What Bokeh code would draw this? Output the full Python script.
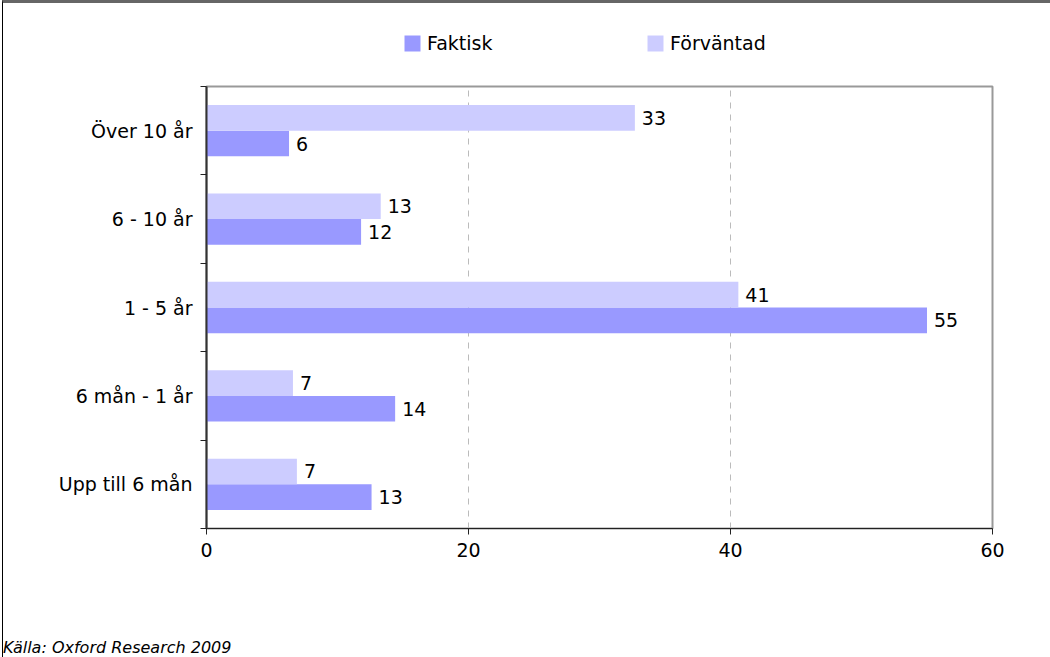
from bokeh.plotting import figure
from bokeh.models import (Range1d, FixedTicker, ColumnDataSource, Legend, LegendItem, Div)
from bokeh.layouts import column
from bokeh.transform import dodge
from bokeh.core.properties import value
from bokeh.embed import file_html
from bokeh.resources import INLINE

categories = ["Upp till 6 mån", "6 mån - 1 år", "1 - 5 år", "6 - 10 år", "Över 10 år"]
faktisk = [12.6, 14.4, 55.0, 11.8, 6.3]
forvantad = [6.9, 6.6, 40.6, 13.3, 32.7]
x_ticks = [0, 20, 40, 60]
series_names = ["Faktisk", "Förväntad"]
series_colors = ["#9999FF", "#CCCCFF"]
source_text = "Källa: Oxford Research 2009"

FONT = "DejaVu Sans"
FS = "19px"
LEFT_SHIFT = 3  # left frame line + margin

ypos = [i + 0.5 for i in range(len(categories))]
src = ColumnDataSource(dict(
    y=ypos,
    fak=faktisk,
    forv=forvantad,
    fak_lbl=[str(int(round(v))) for v in faktisk],
    forv_lbl=[str(int(round(v))) for v in forvantad],
))

# ---------- main chart ----------
p = figure(frame_width=786, frame_height=442, output_backend="svg", toolbar_location=None,
           x_range=Range1d(0, 60), y_range=Range1d(0, 5),
           min_border_left=206 - LEFT_SHIFT, min_border_right=58, min_border_top=2,
           min_border_bottom=110)
p.background_fill_color = "white"
p.border_fill_color = "white"
p.outline_line_color = "#999999"
p.outline_line_width = 2

bh = 0.29
p.hbar(y=dodge("y", -bh / 2), right="fak", left=0, height=bh, source=src,
       fill_color=series_colors[0], line_color=None)
p.hbar(y=dodge("y", bh / 2), right="forv", left=0, height=bh, source=src,
       fill_color=series_colors[1], line_color=None)

p.text(x="fak", y=dodge("y", -bh / 2), text="fak_lbl", source=src, x_offset=7,
       text_baseline="middle", text_align="left", text_font=value(FONT),
       text_font_size=FS, text_color="black")
p.text(x="forv", y=dodge("y", bh / 2), text="forv_lbl", source=src, x_offset=7,
       text_baseline="middle", text_align="left", text_font=value(FONT),
       text_font_size=FS, text_color="black")

xa = p.xaxis[0]
xa.ticker = FixedTicker(ticks=x_ticks, minor_ticks=[])
xa.major_tick_out = 6
xa.major_tick_in = 0
xa.minor_tick_out = 0
xa.major_label_standoff = 8
xa.axis_line_color = "#222222"
xa.major_tick_line_color = "#222222"
xa.major_label_text_font = FONT
xa.major_label_text_font_size = FS
xa.major_label_text_color = "black"

ya = p.yaxis[0]
ya.ticker = FixedTicker(ticks=ypos, minor_ticks=list(range(len(categories) + 1)))
ya.major_label_overrides = {y: c for y, c in zip(ypos, categories)}
ya.major_tick_out = 0
ya.major_tick_in = 0
ya.minor_tick_out = 6
ya.minor_tick_in = 0
ya.minor_tick_line_color = "#222222"
ya.axis_line_color = "#333333"
ya.axis_line_width = 2
ya.major_label_standoff = 8
ya.major_label_text_font = FONT
ya.major_label_text_font_size = FS
ya.major_label_text_color = "black"

p.ygrid.grid_line_color = None
p.xgrid.ticker = FixedTicker(ticks=[20, 40])
p.xgrid.grid_line_color = "#bbbbbb"
p.xgrid.grid_line_dash = "6 6"

# ---------- legend strip ----------
LW = 1050 - LEFT_SHIFT
lf = figure(width=LW, height=81, output_backend="svg", toolbar_location=None,
            x_axis_type=None, y_axis_type=None, x_range=Range1d(0, 1), y_range=Range1d(0, 1),
            min_border=0)
lf.outline_line_color = None
lf.grid.grid_line_color = None
lf.background_fill_color = "white"
lf.border_fill_color = "white"
# legend-only swatches, placed outside the visible range of this strip
leg_renderers = [lf.hbar(y=[-5], left=[0], right=[1], height=0.5, fill_color=c, line_color=None)
                 for c in series_colors]
legend = Legend(items=[LegendItem(label=n, renderers=[r])
                       for n, r in zip(series_names, leg_renderers)],
                orientation="horizontal", location=(196, 30),
                glyph_width=20, glyph_height=20, label_standoff=5,
                label_width=124, spacing=94, padding=0, margin=0,
                border_line_color=None, background_fill_alpha=0,
                label_text_font=FONT, label_text_font_size=FS,
                label_text_color="black")
lf.add_layout(legend, "center")

note = Div(text=source_text, width=400, height=19, margin=0,
           styles={"font-family": FONT, "font-size": "16px", "font-style": "italic",
                   "color": "black", "line-height": "19px", "white-space": "nowrap"})

layout = column(lf, p, note, spacing=0,
                styles={"border-left": "1px solid #000000", "margin-left": "2px",
                        "border-top": "3px solid #666666"})
open("out.html", "w").write(file_html(layout, INLINE))
